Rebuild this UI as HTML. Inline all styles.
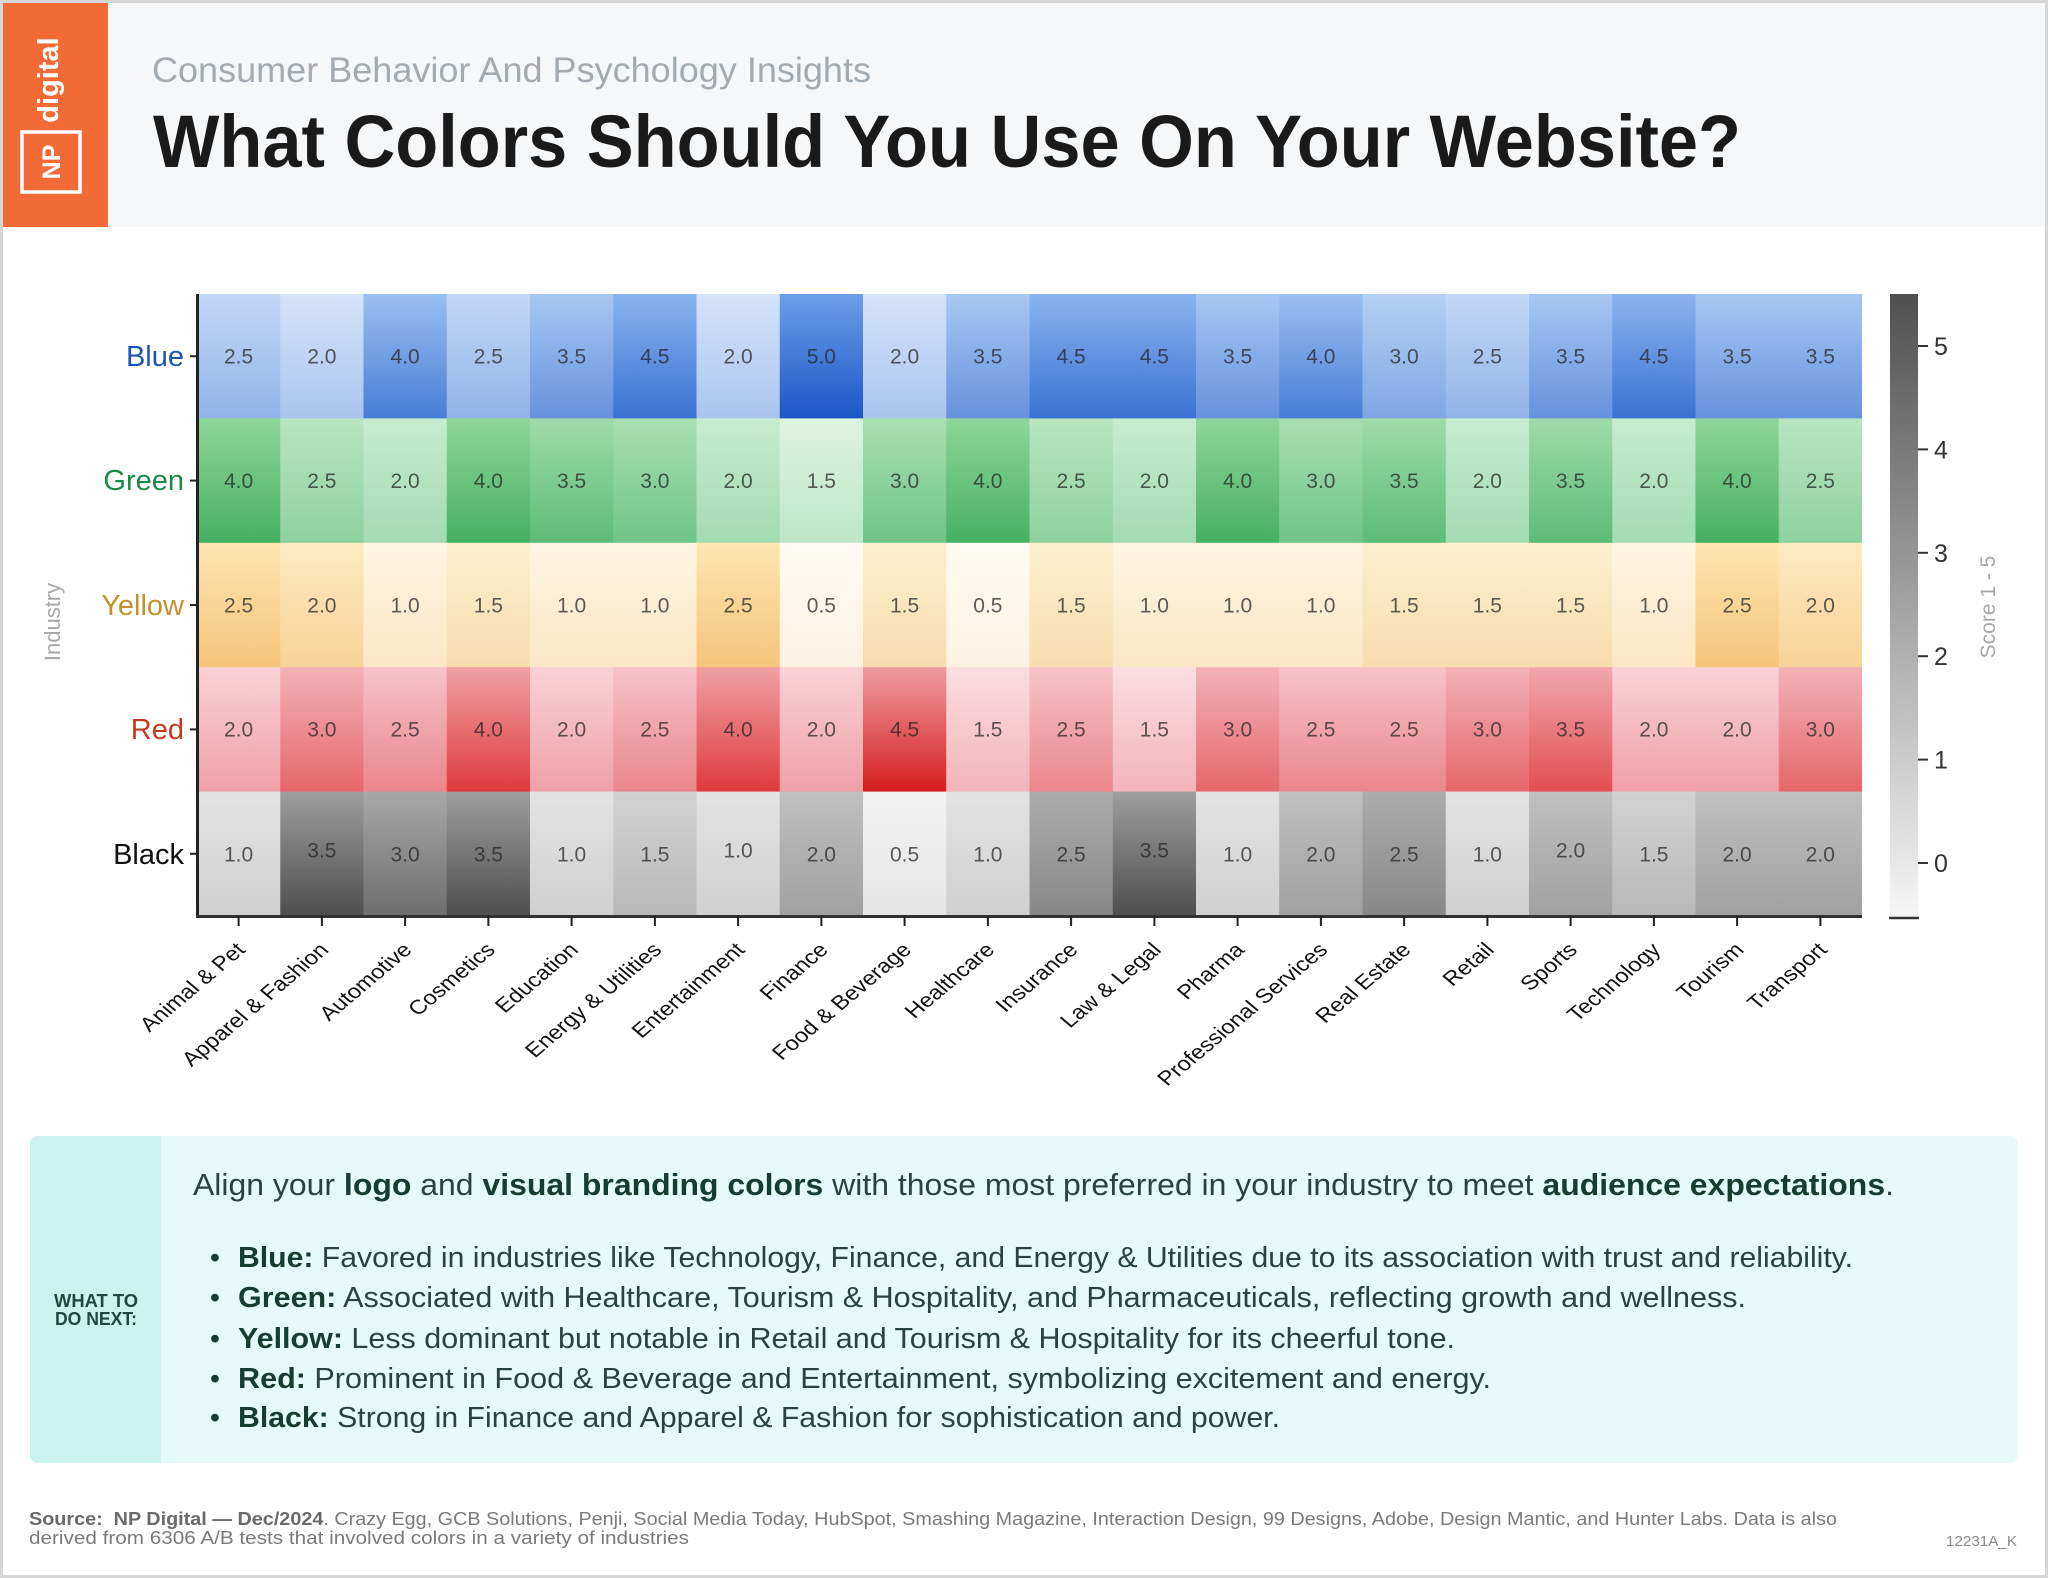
<!DOCTYPE html>
<html><head><meta charset="utf-8"><style>
html,body{margin:0;padding:0;background:#fff;}
svg{display:block;font-family:"Liberation Sans",sans-serif;}
</style></head><body>
<svg width="2048" height="1578" viewBox="0 0 2048 1578" xmlns="http://www.w3.org/2000/svg">
<defs>
<linearGradient id="b20" x1="0" y1="0" x2="0" y2="1"><stop offset="0" stop-color="#d4e4f9"/><stop offset="1" stop-color="#a9c5ee"/></linearGradient>
<linearGradient id="b25" x1="0" y1="0" x2="0" y2="1"><stop offset="0" stop-color="#c3d8f6"/><stop offset="1" stop-color="#91b3e8"/></linearGradient>
<linearGradient id="b30" x1="0" y1="0" x2="0" y2="1"><stop offset="0" stop-color="#b5d0f4"/><stop offset="1" stop-color="#7fa6e4"/></linearGradient>
<linearGradient id="b35" x1="0" y1="0" x2="0" y2="1"><stop offset="0" stop-color="#a8c8f3"/><stop offset="1" stop-color="#6592de"/></linearGradient>
<linearGradient id="b40" x1="0" y1="0" x2="0" y2="1"><stop offset="0" stop-color="#9bbff1"/><stop offset="1" stop-color="#477dd6"/></linearGradient>
<linearGradient id="b45" x1="0" y1="0" x2="0" y2="1"><stop offset="0" stop-color="#8ab4f0"/><stop offset="1" stop-color="#3a71d3"/></linearGradient>
<linearGradient id="b50" x1="0" y1="0" x2="0" y2="1"><stop offset="0" stop-color="#6d9ee8"/><stop offset="1" stop-color="#1a56c8"/></linearGradient>
<linearGradient id="g15" x1="0" y1="0" x2="0" y2="1"><stop offset="0" stop-color="#ddf4e0"/><stop offset="1" stop-color="#bde6c6"/></linearGradient>
<linearGradient id="g20" x1="0" y1="0" x2="0" y2="1"><stop offset="0" stop-color="#c7ecce"/><stop offset="1" stop-color="#a3dbb0"/></linearGradient>
<linearGradient id="g25" x1="0" y1="0" x2="0" y2="1"><stop offset="0" stop-color="#b8e6c0"/><stop offset="1" stop-color="#8dd19e"/></linearGradient>
<linearGradient id="g30" x1="0" y1="0" x2="0" y2="1"><stop offset="0" stop-color="#a8e0b1"/><stop offset="1" stop-color="#6fc488"/></linearGradient>
<linearGradient id="g35" x1="0" y1="0" x2="0" y2="1"><stop offset="0" stop-color="#9fdca9"/><stop offset="1" stop-color="#5cbb78"/></linearGradient>
<linearGradient id="g40" x1="0" y1="0" x2="0" y2="1"><stop offset="0" stop-color="#8fd69b"/><stop offset="1" stop-color="#45b062"/></linearGradient>
<linearGradient id="y05" x1="0" y1="0" x2="0" y2="1"><stop offset="0" stop-color="#fffbf2"/><stop offset="1" stop-color="#fdf2e2"/></linearGradient>
<linearGradient id="y10" x1="0" y1="0" x2="0" y2="1"><stop offset="0" stop-color="#fef6e2"/><stop offset="1" stop-color="#fbe6c6"/></linearGradient>
<linearGradient id="y15" x1="0" y1="0" x2="0" y2="1"><stop offset="0" stop-color="#fdf0d0"/><stop offset="1" stop-color="#f8dcad"/></linearGradient>
<linearGradient id="y20" x1="0" y1="0" x2="0" y2="1"><stop offset="0" stop-color="#fdebc0"/><stop offset="1" stop-color="#f7d297"/></linearGradient>
<linearGradient id="y25" x1="0" y1="0" x2="0" y2="1"><stop offset="0" stop-color="#fde6b2"/><stop offset="1" stop-color="#f5c479"/></linearGradient>
<linearGradient id="r15" x1="0" y1="0" x2="0" y2="1"><stop offset="0" stop-color="#fbdee1"/><stop offset="1" stop-color="#f3b4b9"/></linearGradient>
<linearGradient id="r20" x1="0" y1="0" x2="0" y2="1"><stop offset="0" stop-color="#f9d2d6"/><stop offset="1" stop-color="#efa0a5"/></linearGradient>
<linearGradient id="r25" x1="0" y1="0" x2="0" y2="1"><stop offset="0" stop-color="#f6c3c8"/><stop offset="1" stop-color="#ea868b"/></linearGradient>
<linearGradient id="r30" x1="0" y1="0" x2="0" y2="1"><stop offset="0" stop-color="#f3b2b7"/><stop offset="1" stop-color="#e6666b"/></linearGradient>
<linearGradient id="r35" x1="0" y1="0" x2="0" y2="1"><stop offset="0" stop-color="#f1a7ac"/><stop offset="1" stop-color="#e24d52"/></linearGradient>
<linearGradient id="r40" x1="0" y1="0" x2="0" y2="1"><stop offset="0" stop-color="#f0a0a5"/><stop offset="1" stop-color="#df3a3c"/></linearGradient>
<linearGradient id="r45" x1="0" y1="0" x2="0" y2="1"><stop offset="0" stop-color="#ef9ca1"/><stop offset="1" stop-color="#d41c1c"/></linearGradient>
<linearGradient id="k05" x1="0" y1="0" x2="0" y2="1"><stop offset="0" stop-color="#f2f2f2"/><stop offset="1" stop-color="#e5e5e5"/></linearGradient>
<linearGradient id="k10" x1="0" y1="0" x2="0" y2="1"><stop offset="0" stop-color="#e3e3e3"/><stop offset="1" stop-color="#d0d0d0"/></linearGradient>
<linearGradient id="k15" x1="0" y1="0" x2="0" y2="1"><stop offset="0" stop-color="#d2d2d2"/><stop offset="1" stop-color="#b9b9b9"/></linearGradient>
<linearGradient id="k20" x1="0" y1="0" x2="0" y2="1"><stop offset="0" stop-color="#c0c0c0"/><stop offset="1" stop-color="#a0a0a0"/></linearGradient>
<linearGradient id="k25" x1="0" y1="0" x2="0" y2="1"><stop offset="0" stop-color="#acacac"/><stop offset="1" stop-color="#888888"/></linearGradient>
<linearGradient id="k30" x1="0" y1="0" x2="0" y2="1"><stop offset="0" stop-color="#a8a8a8"/><stop offset="1" stop-color="#6e6e6e"/></linearGradient>
<linearGradient id="k35" x1="0" y1="0" x2="0" y2="1"><stop offset="0" stop-color="#9e9e9e"/><stop offset="1" stop-color="#4e4e4e"/></linearGradient>
<linearGradient id="cbar" x1="0" y1="0" x2="0" y2="1"><stop offset="0" stop-color="#505050"/><stop offset="1" stop-color="#f6f6f6"/></linearGradient>
</defs>

<rect x="0" y="0" width="2048" height="1578" fill="#ffffff"/>
<rect x="3" y="3" width="2042" height="224" fill="#f5f7f9"/>
<rect x="1.5" y="1.5" width="2045" height="1575" fill="none" stroke="#d6d6d6" stroke-width="3"/>
<rect x="3" y="3" width="105" height="224" fill="#f26a36"/>
<text transform="translate(58,80) rotate(-90)" text-anchor="middle" font-size="29" font-weight="bold" fill="#ffffff">digital</text>
<rect x="22" y="132" width="58" height="60" fill="none" stroke="#ffffff" stroke-width="3.5"/>
<text transform="translate(60,162) rotate(-90)" text-anchor="middle" font-size="25" font-weight="bold" fill="#ffffff">NP</text>

<text x="152" y="82" font-size="35" fill="#a3abb1" textLength="719" lengthAdjust="spacingAndGlyphs">Consumer Behavior And Psychology Insights</text>
<text x="153" y="167" font-size="74" font-weight="bold" fill="#1a1a1a" textLength="1588" lengthAdjust="spacingAndGlyphs">What Colors Should You Use On Your Website?</text>

<g>
<rect x="197" y="294" width="84" height="125" fill="url(#b25)"/>
<rect x="280.25" y="294" width="84" height="125" fill="url(#b20)"/>
<rect x="363.5" y="294" width="84" height="125" fill="url(#b40)"/>
<rect x="446.75" y="294" width="84" height="125" fill="url(#b25)"/>
<rect x="530" y="294" width="84" height="125" fill="url(#b35)"/>
<rect x="613.25" y="294" width="84" height="125" fill="url(#b45)"/>
<rect x="696.5" y="294" width="84" height="125" fill="url(#b20)"/>
<rect x="779.75" y="294" width="84" height="125" fill="url(#b50)"/>
<rect x="863" y="294" width="84" height="125" fill="url(#b20)"/>
<rect x="946.25" y="294" width="84" height="125" fill="url(#b35)"/>
<rect x="1029.5" y="294" width="84" height="125" fill="url(#b45)"/>
<rect x="1112.75" y="294" width="84" height="125" fill="url(#b45)"/>
<rect x="1196" y="294" width="84" height="125" fill="url(#b35)"/>
<rect x="1279.25" y="294" width="84" height="125" fill="url(#b40)"/>
<rect x="1362.5" y="294" width="84" height="125" fill="url(#b30)"/>
<rect x="1445.75" y="294" width="84" height="125" fill="url(#b25)"/>
<rect x="1529" y="294" width="84" height="125" fill="url(#b35)"/>
<rect x="1612.25" y="294" width="84" height="125" fill="url(#b45)"/>
<rect x="1695.5" y="294" width="84" height="125" fill="url(#b35)"/>
<rect x="1778.75" y="294" width="83.25" height="125" fill="url(#b35)"/>
<rect x="197" y="418.4" width="84" height="125" fill="url(#g40)"/>
<rect x="280.25" y="418.4" width="84" height="125" fill="url(#g25)"/>
<rect x="363.5" y="418.4" width="84" height="125" fill="url(#g20)"/>
<rect x="446.75" y="418.4" width="84" height="125" fill="url(#g40)"/>
<rect x="530" y="418.4" width="84" height="125" fill="url(#g35)"/>
<rect x="613.25" y="418.4" width="84" height="125" fill="url(#g30)"/>
<rect x="696.5" y="418.4" width="84" height="125" fill="url(#g20)"/>
<rect x="779.75" y="418.4" width="84" height="125" fill="url(#g15)"/>
<rect x="863" y="418.4" width="84" height="125" fill="url(#g30)"/>
<rect x="946.25" y="418.4" width="84" height="125" fill="url(#g40)"/>
<rect x="1029.5" y="418.4" width="84" height="125" fill="url(#g25)"/>
<rect x="1112.75" y="418.4" width="84" height="125" fill="url(#g20)"/>
<rect x="1196" y="418.4" width="84" height="125" fill="url(#g40)"/>
<rect x="1279.25" y="418.4" width="84" height="125" fill="url(#g30)"/>
<rect x="1362.5" y="418.4" width="84" height="125" fill="url(#g35)"/>
<rect x="1445.75" y="418.4" width="84" height="125" fill="url(#g20)"/>
<rect x="1529" y="418.4" width="84" height="125" fill="url(#g35)"/>
<rect x="1612.25" y="418.4" width="84" height="125" fill="url(#g20)"/>
<rect x="1695.5" y="418.4" width="84" height="125" fill="url(#g40)"/>
<rect x="1778.75" y="418.4" width="83.25" height="125" fill="url(#g25)"/>
<rect x="197" y="542.8" width="84" height="125" fill="url(#y25)"/>
<rect x="280.25" y="542.8" width="84" height="125" fill="url(#y20)"/>
<rect x="363.5" y="542.8" width="84" height="125" fill="url(#y10)"/>
<rect x="446.75" y="542.8" width="84" height="125" fill="url(#y15)"/>
<rect x="530" y="542.8" width="84" height="125" fill="url(#y10)"/>
<rect x="613.25" y="542.8" width="84" height="125" fill="url(#y10)"/>
<rect x="696.5" y="542.8" width="84" height="125" fill="url(#y25)"/>
<rect x="779.75" y="542.8" width="84" height="125" fill="url(#y05)"/>
<rect x="863" y="542.8" width="84" height="125" fill="url(#y15)"/>
<rect x="946.25" y="542.8" width="84" height="125" fill="url(#y05)"/>
<rect x="1029.5" y="542.8" width="84" height="125" fill="url(#y15)"/>
<rect x="1112.75" y="542.8" width="84" height="125" fill="url(#y10)"/>
<rect x="1196" y="542.8" width="84" height="125" fill="url(#y10)"/>
<rect x="1279.25" y="542.8" width="84" height="125" fill="url(#y10)"/>
<rect x="1362.5" y="542.8" width="84" height="125" fill="url(#y15)"/>
<rect x="1445.75" y="542.8" width="84" height="125" fill="url(#y15)"/>
<rect x="1529" y="542.8" width="84" height="125" fill="url(#y15)"/>
<rect x="1612.25" y="542.8" width="84" height="125" fill="url(#y10)"/>
<rect x="1695.5" y="542.8" width="84" height="125" fill="url(#y25)"/>
<rect x="1778.75" y="542.8" width="83.25" height="125" fill="url(#y20)"/>
<rect x="197" y="667.2" width="84" height="125" fill="url(#r20)"/>
<rect x="280.25" y="667.2" width="84" height="125" fill="url(#r30)"/>
<rect x="363.5" y="667.2" width="84" height="125" fill="url(#r25)"/>
<rect x="446.75" y="667.2" width="84" height="125" fill="url(#r40)"/>
<rect x="530" y="667.2" width="84" height="125" fill="url(#r20)"/>
<rect x="613.25" y="667.2" width="84" height="125" fill="url(#r25)"/>
<rect x="696.5" y="667.2" width="84" height="125" fill="url(#r40)"/>
<rect x="779.75" y="667.2" width="84" height="125" fill="url(#r20)"/>
<rect x="863" y="667.2" width="84" height="125" fill="url(#r45)"/>
<rect x="946.25" y="667.2" width="84" height="125" fill="url(#r15)"/>
<rect x="1029.5" y="667.2" width="84" height="125" fill="url(#r25)"/>
<rect x="1112.75" y="667.2" width="84" height="125" fill="url(#r15)"/>
<rect x="1196" y="667.2" width="84" height="125" fill="url(#r30)"/>
<rect x="1279.25" y="667.2" width="84" height="125" fill="url(#r25)"/>
<rect x="1362.5" y="667.2" width="84" height="125" fill="url(#r25)"/>
<rect x="1445.75" y="667.2" width="84" height="125" fill="url(#r30)"/>
<rect x="1529" y="667.2" width="84" height="125" fill="url(#r35)"/>
<rect x="1612.25" y="667.2" width="84" height="125" fill="url(#r20)"/>
<rect x="1695.5" y="667.2" width="84" height="125" fill="url(#r20)"/>
<rect x="1778.75" y="667.2" width="83.25" height="125" fill="url(#r30)"/>
<rect x="197" y="791.6" width="84" height="124.4" fill="url(#k10)"/>
<rect x="280.25" y="791.6" width="84" height="124.4" fill="url(#k35)"/>
<rect x="363.5" y="791.6" width="84" height="124.4" fill="url(#k30)"/>
<rect x="446.75" y="791.6" width="84" height="124.4" fill="url(#k35)"/>
<rect x="530" y="791.6" width="84" height="124.4" fill="url(#k10)"/>
<rect x="613.25" y="791.6" width="84" height="124.4" fill="url(#k15)"/>
<rect x="696.5" y="791.6" width="84" height="124.4" fill="url(#k10)"/>
<rect x="779.75" y="791.6" width="84" height="124.4" fill="url(#k20)"/>
<rect x="863" y="791.6" width="84" height="124.4" fill="url(#k05)"/>
<rect x="946.25" y="791.6" width="84" height="124.4" fill="url(#k10)"/>
<rect x="1029.5" y="791.6" width="84" height="124.4" fill="url(#k25)"/>
<rect x="1112.75" y="791.6" width="84" height="124.4" fill="url(#k35)"/>
<rect x="1196" y="791.6" width="84" height="124.4" fill="url(#k10)"/>
<rect x="1279.25" y="791.6" width="84" height="124.4" fill="url(#k20)"/>
<rect x="1362.5" y="791.6" width="84" height="124.4" fill="url(#k25)"/>
<rect x="1445.75" y="791.6" width="84" height="124.4" fill="url(#k10)"/>
<rect x="1529" y="791.6" width="84" height="124.4" fill="url(#k20)"/>
<rect x="1612.25" y="791.6" width="84" height="124.4" fill="url(#k15)"/>
<rect x="1695.5" y="791.6" width="84" height="124.4" fill="url(#k20)"/>
<rect x="1778.75" y="791.6" width="83.25" height="124.4" fill="url(#k20)"/>
</g>

<g font-size="21" text-anchor="middle" fill="#262626" fill-opacity="0.74">
<text x="238.6" y="363.5">2.5</text><text x="321.9" y="363.5">2.0</text><text x="405.1" y="363.5">4.0</text><text x="488.4" y="363.5">2.5</text><text x="571.6" y="363.5">3.5</text><text x="654.9" y="363.5">4.5</text><text x="738.1" y="363.5">2.0</text><text x="821.4" y="363.5">5.0</text><text x="904.6" y="363.5">2.0</text><text x="987.9" y="363.5">3.5</text><text x="1071.1" y="363.5">4.5</text><text x="1154.4" y="363.5">4.5</text><text x="1237.6" y="363.5">3.5</text><text x="1320.9" y="363.5">4.0</text><text x="1404.1" y="363.5">3.0</text><text x="1487.4" y="363.5">2.5</text><text x="1570.6" y="363.5">3.5</text><text x="1653.9" y="363.5">4.5</text><text x="1737.1" y="363.5">3.5</text><text x="1820.4" y="363.5">3.5</text>
<text x="238.6" y="487.9">4.0</text><text x="321.9" y="487.9">2.5</text><text x="405.1" y="487.9">2.0</text><text x="488.4" y="487.9">4.0</text><text x="571.6" y="487.9">3.5</text><text x="654.9" y="487.9">3.0</text><text x="738.1" y="487.9">2.0</text><text x="821.4" y="487.9">1.5</text><text x="904.6" y="487.9">3.0</text><text x="987.9" y="487.9">4.0</text><text x="1071.1" y="487.9">2.5</text><text x="1154.4" y="487.9">2.0</text><text x="1237.6" y="487.9">4.0</text><text x="1320.9" y="487.9">3.0</text><text x="1404.1" y="487.9">3.5</text><text x="1487.4" y="487.9">2.0</text><text x="1570.6" y="487.9">3.5</text><text x="1653.9" y="487.9">2.0</text><text x="1737.1" y="487.9">4.0</text><text x="1820.4" y="487.9">2.5</text>
<text x="238.6" y="612.3">2.5</text><text x="321.9" y="612.3">2.0</text><text x="405.1" y="612.3">1.0</text><text x="488.4" y="612.3">1.5</text><text x="571.6" y="612.3">1.0</text><text x="654.9" y="612.3">1.0</text><text x="738.1" y="612.3">2.5</text><text x="821.4" y="612.3">0.5</text><text x="904.6" y="612.3">1.5</text><text x="987.9" y="612.3">0.5</text><text x="1071.1" y="612.3">1.5</text><text x="1154.4" y="612.3">1.0</text><text x="1237.6" y="612.3">1.0</text><text x="1320.9" y="612.3">1.0</text><text x="1404.1" y="612.3">1.5</text><text x="1487.4" y="612.3">1.5</text><text x="1570.6" y="612.3">1.5</text><text x="1653.9" y="612.3">1.0</text><text x="1737.1" y="612.3">2.5</text><text x="1820.4" y="612.3">2.0</text>
<text x="238.6" y="736.7">2.0</text><text x="321.9" y="736.7">3.0</text><text x="405.1" y="736.7">2.5</text><text x="488.4" y="736.7">4.0</text><text x="571.6" y="736.7">2.0</text><text x="654.9" y="736.7">2.5</text><text x="738.1" y="736.7">4.0</text><text x="821.4" y="736.7">2.0</text><text x="904.6" y="736.7">4.5</text><text x="987.9" y="736.7">1.5</text><text x="1071.1" y="736.7">2.5</text><text x="1154.4" y="736.7">1.5</text><text x="1237.6" y="736.7">3.0</text><text x="1320.9" y="736.7">2.5</text><text x="1404.1" y="736.7">2.5</text><text x="1487.4" y="736.7">3.0</text><text x="1570.6" y="736.7">3.5</text><text x="1653.9" y="736.7">2.0</text><text x="1737.1" y="736.7">2.0</text><text x="1820.4" y="736.7">3.0</text>
<text x="238.6" y="861.3">1.0</text><text x="321.9" y="857.3">3.5</text><text x="405.1" y="861.3">3.0</text><text x="488.4" y="861.3">3.5</text><text x="571.6" y="861.3">1.0</text><text x="654.9" y="861.3">1.5</text><text x="738.1" y="857.3">1.0</text><text x="821.4" y="861.3">2.0</text><text x="904.6" y="861.3">0.5</text><text x="987.9" y="861.3">1.0</text><text x="1071.1" y="861.3">2.5</text><text x="1154.4" y="857.3">3.5</text><text x="1237.6" y="861.3">1.0</text><text x="1320.9" y="861.3">2.0</text><text x="1404.1" y="861.3">2.5</text><text x="1487.4" y="861.3">1.0</text><text x="1570.6" y="857.3">2.0</text><text x="1653.9" y="861.3">1.5</text><text x="1737.1" y="861.3">2.0</text><text x="1820.4" y="861.3">2.0</text>
</g>

<line x1="197.5" y1="294" x2="197.5" y2="918" stroke="#222" stroke-width="3"/>
<line x1="196" y1="916.5" x2="1862" y2="916.5" stroke="#333" stroke-width="3"/>
<g stroke="#222" stroke-width="2">
<line x1="190" y1="356.2" x2="198" y2="356.2"/>
<line x1="190" y1="480.6" x2="198" y2="480.6"/>
<line x1="190" y1="605" x2="198" y2="605"/>
<line x1="190" y1="729.4" x2="198" y2="729.4"/>
<line x1="190" y1="853.8" x2="198" y2="853.8"/>
<line x1="238.6" y1="916" x2="238.6" y2="926"/><line x1="321.9" y1="916" x2="321.9" y2="926"/><line x1="405.1" y1="916" x2="405.1" y2="926"/><line x1="488.4" y1="916" x2="488.4" y2="926"/><line x1="571.6" y1="916" x2="571.6" y2="926"/><line x1="654.9" y1="916" x2="654.9" y2="926"/><line x1="738.1" y1="916" x2="738.1" y2="926"/><line x1="821.4" y1="916" x2="821.4" y2="926"/><line x1="904.6" y1="916" x2="904.6" y2="926"/><line x1="987.9" y1="916" x2="987.9" y2="926"/><line x1="1071.1" y1="916" x2="1071.1" y2="926"/><line x1="1154.4" y1="916" x2="1154.4" y2="926"/><line x1="1237.6" y1="916" x2="1237.6" y2="926"/><line x1="1320.9" y1="916" x2="1320.9" y2="926"/><line x1="1404.1" y1="916" x2="1404.1" y2="926"/><line x1="1487.4" y1="916" x2="1487.4" y2="926"/><line x1="1570.6" y1="916" x2="1570.6" y2="926"/><line x1="1653.9" y1="916" x2="1653.9" y2="926"/><line x1="1737.1" y1="916" x2="1737.1" y2="926"/><line x1="1820.4" y1="916" x2="1820.4" y2="926"/>
</g>

<g font-size="29" text-anchor="end">
<text x="184" y="366" fill="#1d56b3">Blue</text>
<text x="184" y="490" fill="#1a8a48">Green</text>
<text x="184" y="615" fill="#c4902c">Yellow</text>
<text x="184" y="739" fill="#c23b1c">Red</text>
<text x="184" y="864" fill="#111111">Black</text>
</g>
<text transform="translate(60,622) rotate(-90)" text-anchor="middle" font-size="22" fill="#a8a8a8">Industry</text>

<g font-size="20" text-anchor="end" fill="#111">
<text transform="translate(246.6,951) scale(1.19,1) rotate(-45)">Animal &amp; Pet</text>
<text transform="translate(329.9,951) scale(1.19,1) rotate(-45)">Apparel &amp; Fashion</text>
<text transform="translate(413.1,951) scale(1.19,1) rotate(-45)">Automotive</text>
<text transform="translate(496.4,951) scale(1.19,1) rotate(-45)">Cosmetics</text>
<text transform="translate(579.6,951) scale(1.19,1) rotate(-45)">Education</text>
<text transform="translate(662.9,951) scale(1.19,1) rotate(-45)">Energy &amp; Utilities</text>
<text transform="translate(746.1,951) scale(1.19,1) rotate(-45)">Entertainment</text>
<text transform="translate(829.4,951) scale(1.19,1) rotate(-45)">Finance</text>
<text transform="translate(912.6,951) scale(1.19,1) rotate(-45)">Food &amp; Beverage</text>
<text transform="translate(995.9,951) scale(1.19,1) rotate(-45)">Healthcare</text>
<text transform="translate(1079.1,951) scale(1.19,1) rotate(-45)">Insurance</text>
<text transform="translate(1162.4,951) scale(1.19,1) rotate(-45)">Law &amp; Legal</text>
<text transform="translate(1245.6,951) scale(1.19,1) rotate(-45)">Pharma</text>
<text transform="translate(1328.9,951) scale(1.19,1) rotate(-45)">Professional Services</text>
<text transform="translate(1412.1,951) scale(1.19,1) rotate(-45)">Real Estate</text>
<text transform="translate(1495.4,951) scale(1.19,1) rotate(-45)">Retail</text>
<text transform="translate(1578.6,951) scale(1.19,1) rotate(-45)">Sports</text>
<text transform="translate(1661.9,951) scale(1.19,1) rotate(-45)">Technology</text>
<text transform="translate(1745.1,951) scale(1.19,1) rotate(-45)">Tourism</text>
<text transform="translate(1828.4,951) scale(1.19,1) rotate(-45)">Transport</text>
</g>

<rect x="1890" y="294" width="28" height="624" fill="url(#cbar)"/>
<line x1="1889" y1="918" x2="1919" y2="918" stroke="#333" stroke-width="2.5"/>
<g stroke="#333" stroke-width="2">
<line x1="1918" y1="346" x2="1928" y2="346"/>
<line x1="1918" y1="449.4" x2="1928" y2="449.4"/>
<line x1="1918" y1="552.8" x2="1928" y2="552.8"/>
<line x1="1918" y1="656.2" x2="1928" y2="656.2"/>
<line x1="1918" y1="759.6" x2="1928" y2="759.6"/>
<line x1="1918" y1="863" x2="1928" y2="863"/>
</g>
<g font-size="25" fill="#333">
<text x="1934" y="355">5</text>
<text x="1934" y="458.4">4</text>
<text x="1934" y="561.8">3</text>
<text x="1934" y="665.2">2</text>
<text x="1934" y="768.6">1</text>
<text x="1934" y="872">0</text>
</g>
<text transform="translate(1995,607) rotate(-90)" text-anchor="middle" font-size="21" fill="#a8a8a8">Score 1 - 5</text>

<rect x="30" y="1136" width="1988" height="327" rx="8" fill="#e5fbf9"/>
<path d="M38 1136 H161 V1463 H38 A8 8 0 0 1 30 1455 V1144 A8 8 0 0 1 38 1136 Z" fill="#cdf3ee"/>
<text x="96" y="1307" text-anchor="middle" font-size="18" font-weight="bold" fill="#1d4a3c" textLength="84" lengthAdjust="spacingAndGlyphs">WHAT TO</text>
<text x="96" y="1325" text-anchor="middle" font-size="18" font-weight="bold" fill="#1d4a3c" textLength="82" lengthAdjust="spacingAndGlyphs">DO NEXT:</text>

<text x="193" y="1195" font-size="31" fill="#27443e" textLength="1701" lengthAdjust="spacingAndGlyphs">Align your <tspan font-weight="bold" fill="#173d31">logo</tspan> and <tspan font-weight="bold" fill="#173d31">visual branding colors</tspan> with those most preferred in your industry to meet <tspan font-weight="bold" fill="#173d31">audience expectations</tspan>.</text>

<g font-size="29" fill="#27443e">
<text x="215" y="1267" text-anchor="middle" fill="#173d31">•</text>
<text x="215" y="1307" text-anchor="middle" fill="#173d31">•</text>
<text x="215" y="1348" text-anchor="middle" fill="#173d31">•</text>
<text x="215" y="1388" text-anchor="middle" fill="#173d31">•</text>
<text x="215" y="1427" text-anchor="middle" fill="#173d31">•</text>
<text x="238" y="1267" textLength="1615" lengthAdjust="spacingAndGlyphs"><tspan font-weight="bold" fill="#173d31">Blue:</tspan> Favored in industries like Technology, Finance, and Energy &amp; Utilities due to its association with trust and reliability.</text>
<text x="238" y="1307" textLength="1508" lengthAdjust="spacingAndGlyphs"><tspan font-weight="bold" fill="#173d31">Green:</tspan> Associated with Healthcare, Tourism &amp; Hospitality, and Pharmaceuticals, reflecting growth and wellness.</text>
<text x="238" y="1348" textLength="1217" lengthAdjust="spacingAndGlyphs"><tspan font-weight="bold" fill="#173d31">Yellow:</tspan> Less dominant but notable in Retail and Tourism &amp; Hospitality for its cheerful tone.</text>
<text x="238" y="1388" textLength="1253" lengthAdjust="spacingAndGlyphs"><tspan font-weight="bold" fill="#173d31">Red:</tspan> Prominent in Food &amp; Beverage and Entertainment, symbolizing excitement and energy.</text>
<text x="238" y="1427" textLength="1042" lengthAdjust="spacingAndGlyphs"><tspan font-weight="bold" fill="#173d31">Black:</tspan> Strong in Finance and Apparel &amp; Fashion for sophistication and power.</text>
</g>

<text x="29" y="1525" font-size="18" fill="#7a7a7a" textLength="1808" lengthAdjust="spacingAndGlyphs"><tspan font-weight="bold" fill="#6a6a6a">Source:&#160; NP Digital — Dec/2024</tspan>. Crazy Egg, GCB Solutions, Penji, Social Media Today, HubSpot, Smashing Magazine, Interaction Design, 99 Designs, Adobe, Design Mantic, and Hunter Labs. Data is also</text>
<text x="29" y="1544" font-size="18" fill="#7a7a7a" textLength="660" lengthAdjust="spacingAndGlyphs">derived from 6306 A/B tests that involved colors in a variety of industries</text>
<text x="1946" y="1546" font-size="15" fill="#8a8a8a" textLength="71" lengthAdjust="spacingAndGlyphs">12231A_K</text>
</svg>
</body></html>
